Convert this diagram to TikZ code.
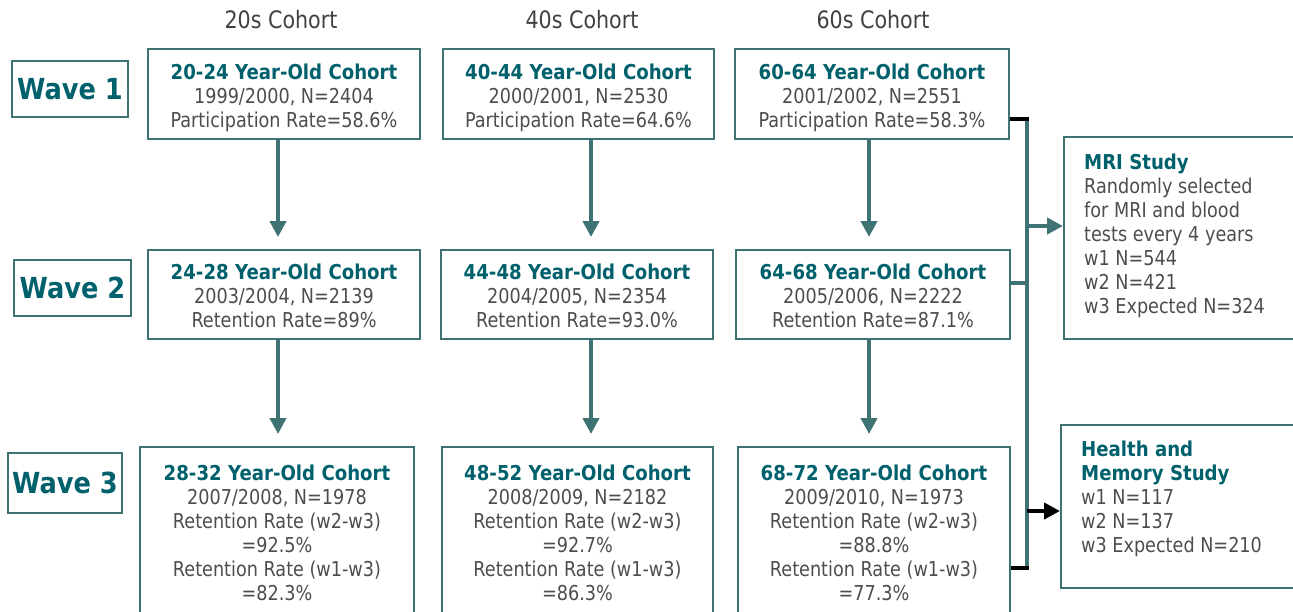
\documentclass[tikz,border=0pt]{standalone}
\usepackage{fontspec}
\setmainfont{DejaVu Sans}[FakeStretch=0.86,BoldFeatures={FakeStretch=0.885}]
\usetikzlibrary{arrows.meta,calc}
\definecolor{boxc}{HTML}{3F7373}
\definecolor{titc}{HTML}{00606C}
\definecolor{txtc}{HTML}{4D4D4D}
\definecolor{hdrc}{HTML}{404040}
\newcommand{\ttl}[1]{\textbf{\color{titc}#1}}
\newcommand{\lift}[1]{\rule{0pt}{#1}}
\begin{document}
\begin{tikzpicture}[x=1pt,y=-1pt,
 cbox/.style={draw=boxc, line width=2pt, align=center, text=txtc, font=\fontsize{20.5}{24}\selectfont, inner sep=0pt},
 wbox/.style={draw=boxc, line width=2pt, text=titc, font=\fontsize{29}{34}\selectfont\bfseries, inner sep=0pt},
 sbox/.style={draw=boxc, line width=2pt, inner sep=0pt},
 hdr/.style={text=hdrc, font=\fontsize{24}{28}\selectfont, inner sep=0pt},
 stxt/.style={align=left, text=txtc, font=\fontsize{20.5}{24}\selectfont, inner sep=0pt, anchor=west},
 arr/.style={draw=boxc, line width=4pt, -{Triangle[width=16pt,length=16pt]}, shorten >=12pt},
 busline/.style={draw=boxc, line width=4pt},
 blk/.style={draw=black, line width=4pt},
]
\useasboundingbox (0,0) rectangle (1293,611);
\clip (0,0) rectangle (1293,611);

% headers
\node[hdr] (h1) at (281,20) {20s Cohort};
\node[hdr] (h2) at (582,20) {40s Cohort};
\node[hdr] (h3) at (873,20) {60s Cohort};

% wave labels
\node[wbox, minimum width=116pt, minimum height=56pt] (wv1) at (70,89) {Wave 1};
\node[wbox, minimum width=117pt, minimum height=56pt] (wv2) at (72.5,288) {Wave 2};
\node[wbox, minimum width=114pt, minimum height=60pt] (wv3) at (65,483) {Wave 3};

% wave 1
\node[cbox, minimum width=272pt, minimum height=90pt] (a1) at (284,94)
 {\lift{23.5pt}\ttl{20-24 Year-Old Cohort}\\1999/2000, N=2404\\Participation Rate=58.6\%};
\node[cbox, minimum width=271pt, minimum height=90pt] (a2) at (578.5,94)
 {\lift{23.5pt}\ttl{40-44 Year-Old Cohort}\\2000/2001, N=2530\\Participation Rate=64.6\%};
\node[cbox, minimum width=274pt, minimum height=90pt] (a3) at (872,94)
 {\lift{23.5pt}\ttl{60-64 Year-Old Cohort}\\2001/2002, N=2551\\Participation Rate=58.3\%};

% wave 2
\node[cbox, minimum width=272pt, minimum height=89pt] (b1) at (284,294.5)
 {\lift{17.5pt}\ttl{24-28 Year-Old Cohort}\\2003/2004, N=2139\\Retention Rate=89\%};
\node[cbox, minimum width=272pt, minimum height=89pt] (b2) at (577,294.5)
 {\lift{17.5pt}\ttl{44-48 Year-Old Cohort}\\2004/2005, N=2354\\Retention Rate=93.0\%};
\node[cbox, minimum width=274pt, minimum height=89pt] (b3) at (873,294.5)
 {\lift{17.5pt}\ttl{64-68 Year-Old Cohort}\\2005/2006, N=2222\\Retention Rate=87.1\%};

% wave 3
\node[cbox, minimum width=274pt, minimum height=170pt] (c1) at (277,532)
 {\lift{17.5pt}\ttl{28-32 Year-Old Cohort}\\2007/2008, N=1978\\Retention Rate (w2-w3)\\=92.5\%\\Retention Rate (w1-w3)\\=82.3\%};
\node[cbox, minimum width=271pt, minimum height=170pt] (c2) at (577.5,532)
 {\lift{17.5pt}\ttl{48-52 Year-Old Cohort}\\2008/2009, N=2182\\Retention Rate (w2-w3)\\=92.7\%\\Retention Rate (w1-w3)\\=86.3\%};
\node[cbox, minimum width=272pt, minimum height=170pt] (c3) at (874,532)
 {\lift{17.5pt}\ttl{68-72 Year-Old Cohort}\\2009/2010, N=1973\\Retention Rate (w2-w3)\\=88.8\%\\Retention Rate (w1-w3)\\=77.3\%};

% study boxes
\node[sbox, minimum width=252pt, minimum height=202pt] (mri) at (1190,238) {};
\node[stxt] (mrit) at ($(mri.west)+(21,-2.5)$)
 {\ttl{MRI Study}\\Randomly selected\\for MRI and blood\\tests every 4 years\\w1 N=544\\w2 N=421\\w3 Expected N=324};
\node[sbox, minimum width=255pt, minimum height=163pt] (hms) at (1188.5,506.5) {};
\node[stxt] (hmst) at ($(hms.west)+(21,-8)$)
 {\ttl{Health and}\\\ttl{Memory Study}\\w1 N=117\\w2 N=137\\w3 Expected N=210};

% vertical arrows
\coordinate (k1) at (278,0);
\coordinate (k2) at (591,0);
\coordinate (k3) at (869,0);
\draw[arr] (a1.south -| k1) -- (b1.north -| k1);
\draw[arr] (a2.south -| k2) -- (b2.north -| k2);
\draw[arr] (a3.south -| k3) -- (b3.north -| k3);
\draw[arr] (b1.south -| k1) -- (c1.north -| k1);
\draw[arr] (b2.south -| k2) -- (c2.north -| k2);
\draw[arr] (b3.south -| k3) -- (c3.north -| k3);

% bus on the right
\coordinate (t1) at (1027,119);
\coordinate (t2) at (1027,283);
\coordinate (t3) at (1027,568);
\coordinate (m1) at (1027,226);
\coordinate (m2) at (1027,511);
\draw[busline] (t1) -- (t3);
\draw[busline] (b3.east |- t2) -- (t2);
\draw[blk, shorten >=-2pt] (a3.east |- t1) -- (t1);
\draw[blk, shorten >=-2pt] (c3.east |- t3) -- (t3);
\draw[busline, -{Triangle[width=16pt,length=16pt]}] (m1) -- (mri.west |- m1);
\draw[blk, -{Triangle[width=16pt,length=16pt]}] (m2) -- (hms.west |- m2);
\end{tikzpicture}
\end{document}
